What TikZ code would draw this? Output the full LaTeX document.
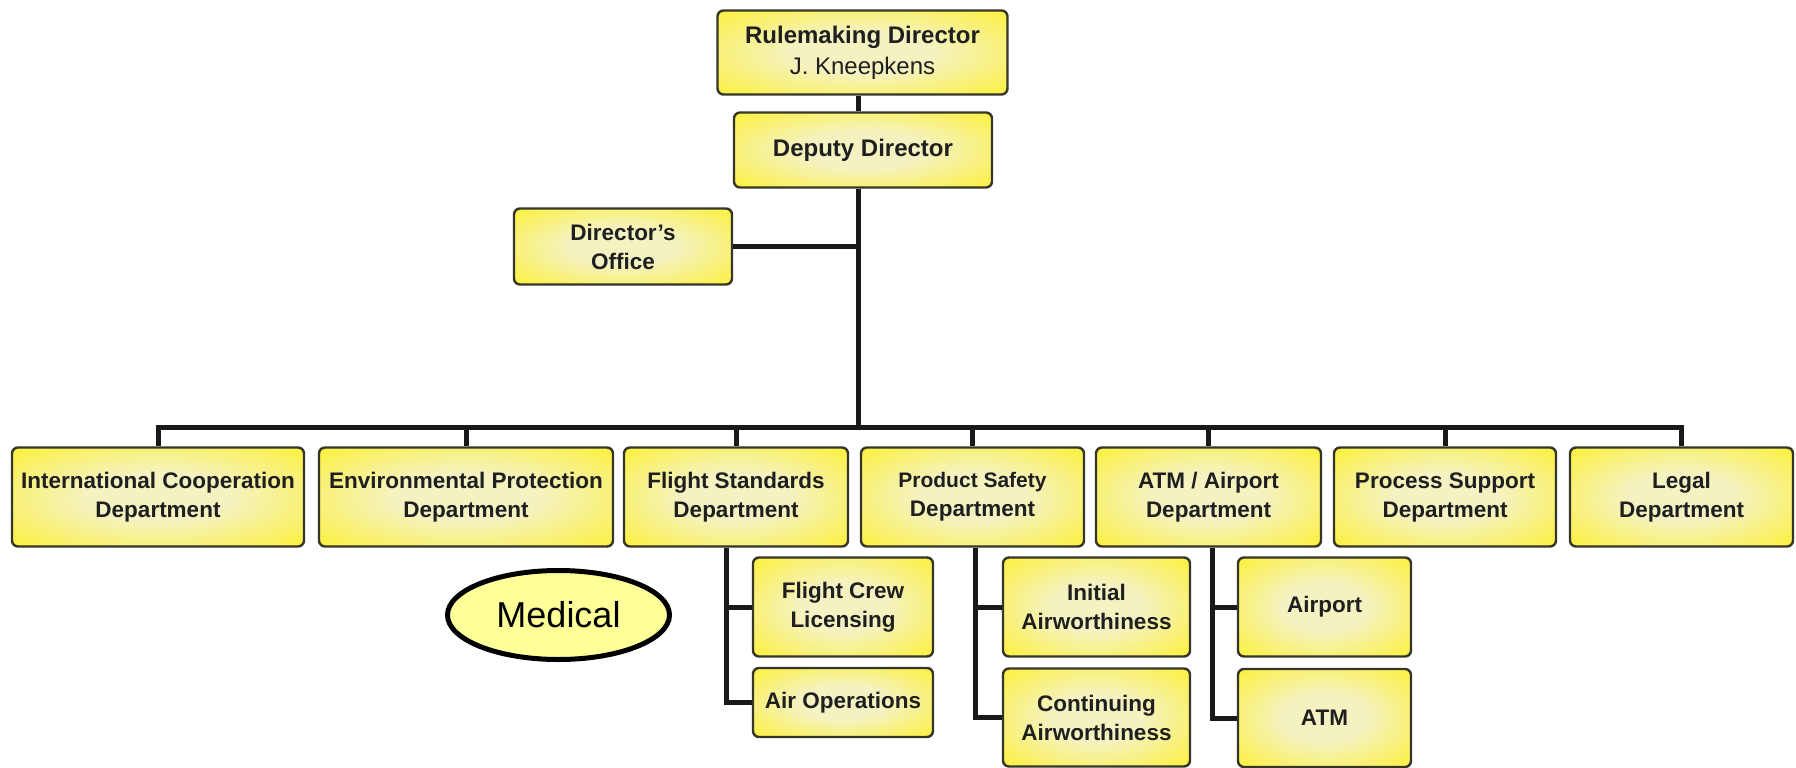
\documentclass[tikz,border=0pt]{standalone}
\usepackage{fontspec}
\setmainfont{Liberation Sans}
\usetikzlibrary{calc,shapes.geometric}
\definecolor{boxyellow}{HTML}{FFF000}
\definecolor{boxlight}{HTML}{F5F2C2}
\definecolor{boxedge}{HTML}{35352A}
\definecolor{noteyellow}{HTML}{FFFF99}
\pgfdeclareradialshading{boxglow}{\pgfpoint{0bp}{0bp}}{color(0bp)=(boxlight); color(12bp)=(boxlight); color(46bp)=(boxyellow); color(50bp)=(boxyellow)}
\tikzset{org box/.style={draw=boxedge, line width=2.4pt, rounded corners=6pt,
           shading=boxglow, inner sep=0pt, align=center, text=black!88,
           font=\bfseries\fontsize{22.5}{29}\selectfont},
     org link/.style={draw=black!90, line width=5pt, line join=miter},
     note oval/.style={ellipse, draw=black, line width=5pt, fill=noteyellow,
           inner sep=0pt, font=\fontsize{36}{40}\selectfont}
     }
\def\Unit#1#2#3#4#5#6{%
 \node[org box, minimum width=#4pt, minimum height=#5pt] (#1) at (#2,#3) {#6};
}
\begin{document}
\begin{tikzpicture}[x=1pt, y=-1pt]
\useasboundingbox (0,0) rectangle (1796,768);
% directors
\node[org box, font=\bfseries\fontsize{24}{31}\selectfont, minimum width=290pt,
  minimum height=84pt] (rd) at (862.5,52.5) {Rulemaking Director\\\mdseries J. Kneepkens};
\node[org box, font=\bfseries\fontsize{24}{31}\selectfont, minimum width=258pt,
  minimum height=75pt] (dd) at (863,150) {Deputy Director};
\Unit{do}{623}{246.5}{218}{76}{Director’s\\Office}
% departments
\Unit{ic}{158}{497}{292}{99}{International Cooperation\\Department}
\Unit{ep}{466}{497}{294}{99}{Environmental Protection\\Department}
\Unit{fs}{736}{497}{224}{99}{Flight Standards\\Department}
\Unit{ps}{972.5}{497}{223}{99}{\fontsize{21}{28}\selectfont Product Safety\\Department}
\Unit{atm}{1208.5}{497}{225}{99}{ATM / Airport\\Department}
\Unit{pcs}{1445}{497}{222}{99}{Process Support\\Department}
\Unit{leg}{1681.5}{497}{223}{99}{Legal\\Department}
% sections
\Unit{fcl}{843}{607}{180}{99}{Flight Crew\\Licensing}
\Unit{aop}{843}{702.5}{180}{69}{Air Operations}
\Unit{ia}{1096.5}{607}{187}{99}{Initial\\Airworthiness}
\Unit{ca}{1096.5}{717.5}{187}{98}{Continuing\\Airworthiness}
\Unit{apt}{1324.5}{607}{173}{99}{Airport}
\Unit{atms}{1324.5}{718}{173}{98}{ATM}
\node[note oval, minimum width=222pt, minimum height=89pt] (med) at (558.5,615) {Medical};
% lines
\coordinate (hub) at (858,427);
\draw[org link] (rd.south -| hub) -- (dd.north -| hub);
\draw[org link] (dd.south -| hub) -- (hub);
\draw[org link] (do.east) -- (do.east -| hub);
\draw[org link] (ic.north) -- (ic.north |- hub) -- (leg.north |- hub) -- (leg.north);
\foreach \dept in {ep,fs,ps,atm,pcs}
  \draw[org link] (\dept.north |- hub) -- (\dept.north);
\coordinate (fsl) at ($(fcl.west)+(-25,0)$);
\coordinate (psl) at ($(ia.west)+(-26,0)$);
\coordinate (atml) at ($(apt.west)+(-24,0)$);
\draw[org link] (fs.south -| fsl) |- (aop.west);
\draw[org link] (fsl) -- (fcl.west);
\draw[org link] (ps.south -| psl) |- (ca.west);
\draw[org link] (psl) -- (ia.west);
\draw[org link] (atm.south -| atml) |- (atms.west);
\draw[org link] (atml) -- (apt.west);
\end{tikzpicture}
\end{document}
